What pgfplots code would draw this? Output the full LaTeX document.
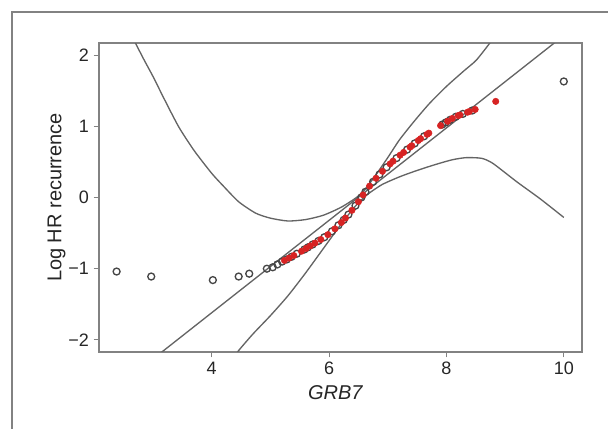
\documentclass[border=0pt]{standalone}
\usepackage{fontspec}
\setmainfont{Liberation Sans}
\usepackage{pgfplots}
\pgfplotsset{compat=1.18}
\definecolor{framegray}{RGB}{130,130,130}
\definecolor{curvegray}{RGB}{100,100,100}
\definecolor{dotred}{RGB}{215,35,35}
\definecolor{dotgray}{RGB}{70,70,70}

\begin{document}
\begin{tikzpicture}
% page = 608 x 429 px at 0.75pt per px
\path[use as bounding box] (0,0) rectangle (456pt,321.75pt);
\clip (0,0) rectangle (456pt,321.75pt);
\draw[framegray, line width=1.5pt] (9pt,-20pt) rectangle (480pt,312.75pt);
\begin{axis}[
  at={(74.25pt,57.75pt)}, anchor=south west,
  scale only axis, width=362.25pt, height=231.75pt,
  xmin=2.08, xmax=10.31, ymin=-2.17, ymax=2.17,
  xtick={4,6,8,10}, xticklabels={4,6,8,10},
  ytick={-2,-1,0,1,2}, yticklabels={−2,−1,0,1,2},
  tick pos=left, tick align=outside,
  major tick length=4pt,
  tick style={framegray, line width=0.8pt},
  axis line style={framegray, line width=1.3pt},
  tick label style={font=\fontsize{13.5}{15}\selectfont, text=black!85},
  xlabel={\textit{GRB7}},
  xlabel style={at={(axis description cs:0.49,-0.13)}, anchor=center,
                font=\fontsize{15}{17}\selectfont, text=black!85},
  ylabel={Log HR recurrence},
  ylabel style={at={(axis description cs:-0.088,0.5)}, anchor=center,
                font=\fontsize{15}{17}\selectfont, text=black!85},
  mark size=2.6pt,
]
% upper confidence band
\addplot[curvegray, line width=1pt, smooth, tension=0.4] coordinates {
  (2.62,2.30)(2.70,2.17)(2.85,1.93)(3.0,1.70)(3.2,1.37)(3.44,0.99)
  (3.7,0.66)(4.0,0.34)(4.2,0.16)(4.46,-0.06)(4.75,-0.22)(5.0,-0.29)
  (5.3,-0.33)(5.6,-0.31)(5.9,-0.25)(6.2,-0.14)(6.45,-0.01)(6.6,0.10)
  (6.8,0.32)(7.0,0.56)(7.2,0.81)(7.45,1.07)(7.71,1.32)(8.0,1.56)
  (8.3,1.78)(8.51,1.93)(8.74,2.17)(8.85,2.30)};
% lower confidence band
\addplot[curvegray, line width=1pt, smooth, tension=0.4] coordinates {
  (4.35,-2.30)(4.44,-2.17)(4.7,-1.92)(5.0,-1.66)(5.3,-1.38)(5.6,-1.06)
  (5.9,-0.72)(6.2,-0.38)(6.45,-0.12)(6.65,0.04)(6.9,0.18)(7.2,0.29)
  (7.5,0.38)(7.8,0.46)(8.1,0.53)(8.34,0.56)(8.6,0.55)(8.79,0.48)
  (9.2,0.22)(9.6,-0.02)(10.0,-0.28)};
% linear fit
\addplot[curvegray, line width=1pt] coordinates {(3.0,-2.268)(10.2,2.405)};
% open points
\addplot[only marks, mark=o, mark options={draw=dotgray, line width=1pt}] coordinates {
  (2.38,-1.04)(2.97,-1.11)(4.02,-1.16)(4.46,-1.11)(4.64,-1.07)(4.94,-1.00)
  (5.04,-0.98)(5.12,-0.94)(5.20,-0.90)(5.28,-0.87)(5.36,-0.833)(5.45,-0.79)
  (5.58,-0.73)(5.64,-0.70)(5.72,-0.66)(5.82,-0.61)(5.92,-0.558)(6.05,-0.475)
  (6.16,-0.39)(6.25,-0.315)(6.33,-0.24)(6.45,-0.115)(6.55,0.0)(6.62,0.08)
  (6.75,0.22)(6.86,0.324)(6.98,0.424)(7.15,0.553)(7.33,0.673)(7.46,0.76)
  (7.62,0.86)(7.93,1.025)(7.99,1.055)(8.06,1.09)(8.16,1.134)(8.28,1.174)
  (8.44,1.222)(10.0,1.63)};
% filled red points
\addplot[only marks, mark=*, mark size=2.4pt, mark options={fill=dotred, draw=dotred}] coordinates {
  (5.24,-0.884)(5.32,-0.851)(5.40,-0.815)(5.53,-0.755)
  (5.61,-0.715)(5.68,-0.68)(5.76,-0.64)(5.86,-0.59)(5.98,-0.522)
  (6.10,-0.44)(6.21,-0.351)(6.28,-0.288)(6.39,-0.18)
  (6.50,-0.06)(6.58,0.036)(6.69,0.16)(6.80,0.27)
  (6.91,0.368)(7.04,0.472)(7.09,0.51)
  (7.21,0.594)(7.27,0.633)(7.38,0.707)(7.41,0.727)(7.52,0.80)
  (7.56,0.826)(7.67,0.887)(7.70,0.904)(7.90,1.01)
  (8.02,1.07)(8.10,1.11)(8.20,1.15)(8.23,1.159)
  (8.36,1.198)(8.39,1.207)(8.49,1.237)(8.84,1.35)};
\end{axis}
\end{tikzpicture}
\end{document}
